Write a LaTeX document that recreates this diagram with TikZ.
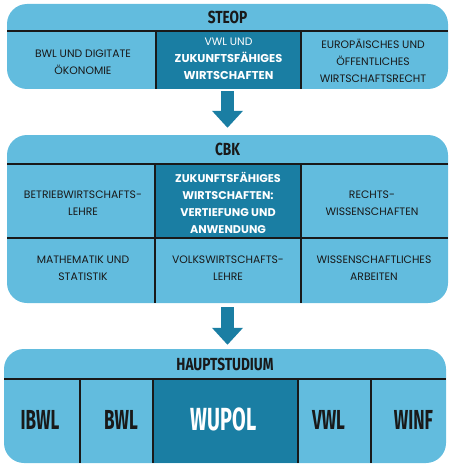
\documentclass[tikz,border=0pt]{standalone}
\usepackage{fontspec}
\setmainfont{Poppins}
\newfontfamily\headfont[FakeStretch=0.78]{Fira Sans}
\newfontfamily\labelfont[FakeStretch=0.62]{Fira Sans}
\usetikzlibrary{arrows.meta,calc}
\definecolor{lightblue}{RGB}{98,188,222}
\definecolor{darkteal}{RGB}{26,126,163}
\definecolor{ink}{RGB}{25,25,25}
\begin{document}
\begin{tikzpicture}[x=1pt,y=-1pt,
  panel/.style={fill=lightblue, rounded corners=20pt, inner sep=0pt, draw=none},
  darkcell/.style={fill=darkteal},
  divider/.style={draw=ink, line width=1.8pt},
  head/.style={font=\headfont\bfseries\fontsize{17.5}{20}\selectfont, text=ink, inner sep=0pt},
  txt/.style={align=center, font=\fontsize{10.8}{17}\selectfont, text=ink, inner sep=0pt},
  wtxt/.style={align=center, font=\fontsize{10.8}{17}\selectfont, text=white, inner sep=0pt},
  btxt/.style={align=center, font=\bfseries\fontsize{11.2}{17}\selectfont, text=white, inner sep=0pt},
  lbl/.style={font=\labelfont\bfseries\fontsize{27.5}{30}\selectfont, text=ink, inner sep=0pt},
  biglbl/.style={font=\labelfont\bfseries\fontsize{32}{34}\selectfont, text=white, inner sep=0pt},
  bigarrow/.style={draw=darkteal, line width=13pt, -{Triangle[width=30pt,length=17pt]}}
]
\useasboundingbox (0,0) rectangle (454,468);

% ---------- STEOP ----------
\node[panel, minimum width=441pt, minimum height=85pt] (steop) at (227.5,46.5) {};
\fill[darkcell] (156,31) rectangle (301,89);
\draw[divider] (7,31) -- (448,31);
\draw[divider] (156,31) -- (156,89);
\draw[divider] (301,31) -- (301,89);
\node[head] (steoph) at (227.5,17.5) {STEOP};
\node[txt] (s1) at (83,62) {BWL UND DIGITATE\\ÖKONOMIE};
\node[wtxt] (s2) at (228.5,59) {VWL UND\\{\bfseries\fontsize{11.4}{17}\selectfont ZUKUNFTSFÄHIGES}\\{\bfseries\fontsize{11.4}{17}\selectfont WIRTSCHAFTEN}};
\node[txt] (s3) at (373,61) {EUROPÄISCHES UND\\ÖFFENTLICHES\\WIRTSCHAFTSRECHT};

% ---------- CBK ----------
\node[panel, minimum width=441pt, minimum height=168pt] (cbk) at (227.5,219) {};
\fill[darkcell] (155,164) rectangle (301,238);
\draw[divider] (7,164) -- (448,164);
\draw[divider] (7,238) -- (448,238);
\draw[divider] (155,164) -- (155,303);
\draw[divider] (301,164) -- (301,303);
\node[head] (cbkh) at (227.5,149.5) {CBK};
\node[txt] (c1) at (83,203) {BETRIEBWIRTSCHAFTS-\\LEHRE};
\node[btxt] (c2) at (228,203) {ZUKUNFTSFÄHIGES\\WIRTSCHAFTEN:\\VERTIEFUNG UND\\ANWENDUNG};
\node[txt] (c3) at (372,203) {RECHTS-\\WISSENSCHAFTEN};
\node[txt] (c4) at (83,268.5) {MATHEMATIK UND\\STATISTIK};
\node[txt] (c5) at (228,268.5) {VOLKSWIRTSCHAFTS-\\LEHRE};
\node[txt] (c6) at (374,268.5) {WISSENSCHAFTLICHES\\ARBEITEN};

% ---------- HAUPTSTUDIUM ----------
\node[panel, minimum width=442pt, minimum height=114pt] (haupt) at (225,406) {};
\fill[darkcell] (153,379) rectangle (298,463);
\draw[divider] (4,379) -- (446,379);
\draw[divider] (80,379) -- (80,463);
\draw[divider] (153,379) -- (153,463);
\draw[divider] (298,379) -- (298,463);
\draw[divider] (371,379) -- (371,463);
\node[head] (haupth) at (225,364) {HAUPTSTUDIUM};
\node[lbl] (h1) at (40,420) {IBWL};
\node[lbl] (h2) at (121,420) {BWL};
\node[biglbl] (h3) at (223.5,419.5) {WUPOL};
\node[lbl] (h4) at (328.5,420) {VWL};
\node[lbl] (h5) at (413.5,420) {WINF};

% ---------- arrows ----------
\draw[bigarrow] ($(steop.south)+(0,2)$) -- ($(cbk.north)+(0,-7)$);
\draw[bigarrow] ($(cbk.south)+(0,4)$) -- ($(haupt.north -| cbk.south)+(0,-4)$);
\end{tikzpicture}
\end{document}
